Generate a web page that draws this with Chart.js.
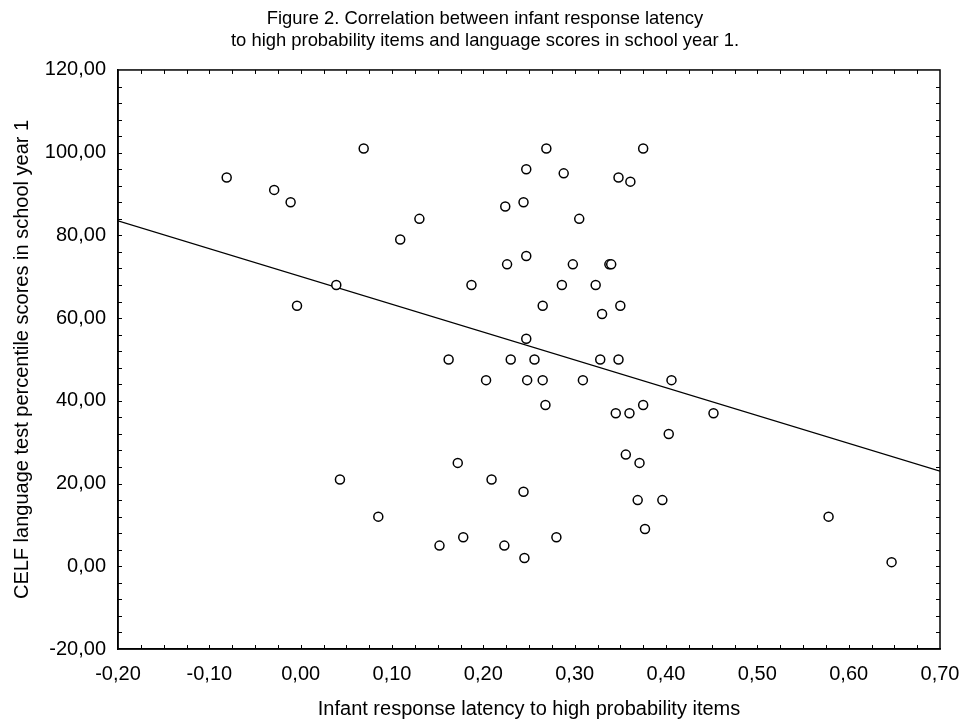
<!DOCTYPE html>
<html>
<head>
<meta charset="utf-8">
<script src="https://cdn.jsdelivr.net/npm/chart.js@4"></script>
<style>
  html, body { margin: 0; padding: 0; background: #fff; }
  #wrap { width: 962px; height: 722px; }
</style>
</head>
<body>
<div id="wrap"><canvas id="latencyChart" width="962" height="722"></canvas></div>
<script>
// Infant response latency (x) vs CELF percentile score (y)
let latency = [
  -0.081, -0.029, -0.011, 0.069, 0.130, 0.109, 0.039, -0.004, 0.187, 0.224,
  0.244, 0.226, 0.247, 0.247, 0.247, 0.269, 0.375, 0.288, 0.348, 0.361,
  0.305, 0.298, 0.338, 0.340, 0.286, 0.323, 0.265, 0.330, 0.350, 0.162,
  0.230, 0.256, 0.328, 0.348, 0.203, 0.248, 0.265, 0.309, 0.406, 0.268,
  0.345, 0.360, 0.375, 0.452, 0.403, 0.356, 0.371, 0.172, 0.209, 0.244,
  0.369, 0.396, 0.377, 0.152, 0.178, 0.223, 0.245, 0.280, 0.043, 0.085,
  0.578, 0.647,
];
let celfScore = [
  94, 91, 88, 101, 84, 79, 68, 63, 68, 87,
  88, 73, 96, 75, 55, 101, 101, 95, 94, 93,
  84, 73, 73, 73, 68, 68, 63, 61, 63, 50,
  50, 50, 50, 50, 45, 45, 45, 45, 45, 39,
  37, 37, 39, 37, 32, 27, 25, 25, 21, 18,
  16, 16, 9, 5, 7, 5, 2, 7, 21, 12,
  12, 1,
];
// fitted regression line, read at the plot edges
let fitX = [-0.2, 0.7];
let fitY = [83.5, 23.0];

let xTicks = [-0.2, -0.1, 0.0, 0.1, 0.2, 0.3, 0.4, 0.5, 0.6, 0.7];
let yTicks = [-20, 0, 20, 40, 60, 80, 100, 120];

const fontFamily = "'Liberation Sans', Arial, sans-serif";
const padLeft = 30;
const plotLeft = 118;
const plotBottomSpace = 73;

let fmt = (v) => v.toFixed(2).replace(".", ",").replace("-0,00", "0,00");

// Inward minor/major tick marks on all four sides + frame
let frameTicks = {
  id: "frameTicks",
  afterDraw(chart) {
    const { ctx, chartArea: a, scales } = chart;
    const xs = scales.x;
    const ys = scales.y;
    const len = 4;
    ctx.save();
    ctx.strokeStyle = "#000";
    ctx.lineWidth = 1;
    ctx.beginPath();
    let xStep = (xTicks[1] - xTicks[0]) / 4;
    let xCount = Math.round((xTicks[xTicks.length - 1] - xTicks[0]) / xStep);
    for (let i = 1; i < xCount; i++) {
      let px = Math.round(xs.getPixelForValue(xTicks[0] + i * xStep)) + 0.5;
      ctx.moveTo(px, a.bottom);
      ctx.lineTo(px, a.bottom - len);
      ctx.moveTo(px, a.top);
      ctx.lineTo(px, a.top + len);
    }
    let yStep = (yTicks[1] - yTicks[0]) / 5;
    let yCount = Math.round((yTicks[yTicks.length - 1] - yTicks[0]) / yStep);
    for (let i = 1; i < yCount; i++) {
      let py = Math.round(ys.getPixelForValue(yTicks[0] + i * yStep)) + 0.5;
      ctx.moveTo(a.left, py);
      ctx.lineTo(a.left + len, py);
      ctx.moveTo(a.right, py);
      ctx.lineTo(a.right - len, py);
    }
    ctx.stroke();
    ctx.lineWidth = 1.5;
    ctx.strokeRect(a.left, a.top, a.right - a.left, a.bottom - a.top);
    ctx.restore();
  },
};

let latencyChart = () => {
  const ctx = document.getElementById("latencyChart");

  new Chart(ctx, {
    type: "scatter",
    data: {
      datasets: [
        {
          type: "scatter",
          label: "Children",
          data: latency.map((x, i) => ({ x: x, y: celfScore[i] })),
          pointRadius: 4.5,
          pointHoverRadius: 4.5,
          pointBorderWidth: 1.5,
          pointBorderColor: "#000",
          pointBackgroundColor: "#fff",
          order: 0,
        },
        {
          type: "line",
          label: "Fit",
          data: fitX.map((x, i) => ({ x: x, y: fitY[i] })),
          borderColor: "#000",
          borderWidth: 1.2,
          pointRadius: 0,
          fill: false,
          order: 1,
        },
      ],
    },
    options: {
      responsive: false,
      animation: false,
      layout: {
        padding: { left: padLeft, right: 22, top: 0, bottom: 0 },
      },
      plugins: {
        legend: { display: false },
        tooltip: { enabled: false },
        title: {
          display: true,
          text: [
            "Figure 2. Correlation between infant response latency",
            "to high probability items and language scores in school year 1.",
          ],
          color: "#000",
          font: { family: fontFamily, size: 18.4, weight: "normal", lineHeight: 1.2 },
          padding: { top: 8, bottom: 17.8 },
        },
      },
      scales: {
        x: {
          type: "linear",
          min: xTicks[0],
          max: xTicks[xTicks.length - 1],
          afterBuildTicks: (scale) => {
            scale.ticks = xTicks.map((v) => ({ value: v }));
          },
          afterFit: (scale) => {
            scale.height = plotBottomSpace;
            // let the end labels overhang into the padding
            scale.paddingLeft = 0;
            scale.paddingRight = 0;
          },
          grid: { display: false, drawTicks: false },
          border: { display: true, color: "#000", width: 1.5 },
          ticks: {
            color: "#000",
            padding: 13,
            maxRotation: 0,
            autoSkip: false,
            font: { family: fontFamily, size: 20 },
            callback: (v) => fmt(v),
          },
          title: {
            display: true,
            text: "Infant response latency to high probability items",
            color: "#000",
            font: { family: fontFamily, size: 20 },
            padding: { top: 0, bottom: 1 },
          },
        },
        y: {
          type: "linear",
          min: yTicks[0],
          max: yTicks[yTicks.length - 1],
          afterBuildTicks: (scale) => {
            scale.ticks = yTicks.map((v) => ({ value: v }));
          },
          afterFit: (scale) => {
            scale.width = plotLeft - padLeft;
          },
          grid: { display: false, drawTicks: false },
          border: { display: true, color: "#000", width: 1.5 },
          ticks: {
            color: "#000",
            padding: 12,
            autoSkip: false,
            font: { family: fontFamily, size: 20 },
            callback: (v) => fmt(v),
          },
          title: {
            display: true,
            text: "CELF language test percentile scores in school year 1",
            color: "#000",
            font: { family: fontFamily, size: 20 },
            padding: { top: -20, bottom: 0 },
          },
        },
      },
    },
    plugins: [frameTicks],
  });
};

latencyChart();
</script>
</body>
</html>
